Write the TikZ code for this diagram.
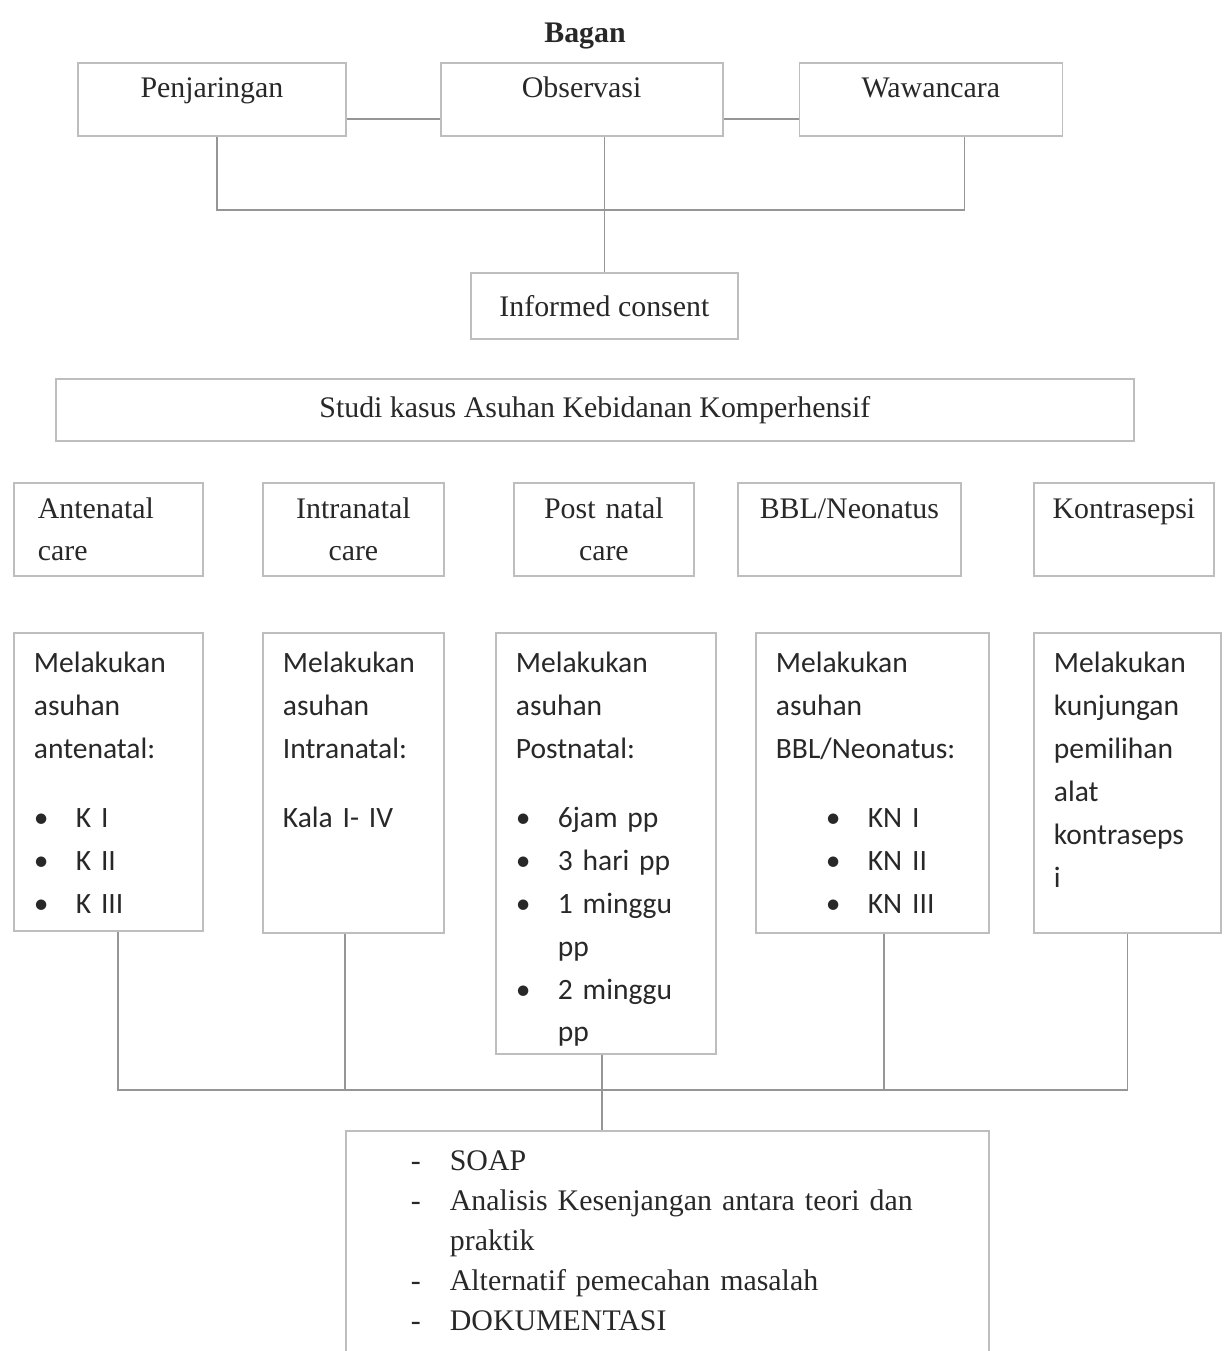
\documentclass[tikz,border=0pt]{standalone}
\usepackage{fontspec}
\setmainfont{Liberation Serif}
\newfontfamily\bodyfont{Carlito}
\usepackage{xcolor}
\usetikzlibrary{positioning}
\definecolor{boxgray}{RGB}{190, 190, 190}
\definecolor{linegray}{RGB}{150, 150, 150}
\definecolor{inkgray}{RGB}{40, 40, 40}
\newcommand{\bul}[1]{\makebox[0.84cm][l]{\textbullet}#1}
\newcommand{\dsh}[1]{\makebox[0.78cm][l]{-}#1}

\begin{document}
\begin{tikzpicture}[
    box/.style={draw=boxgray, line width=1pt, anchor=north west, text=inkgray,
                font=\fontsize{17}{23.8}\selectfont},
    head/.style={box, inner sep=0pt, text height=0.7cm, text depth=0.76cm},
    care/.style={box, inner ysep=0pt, inner xsep=0.3cm, align=center,
                 text height=0.72cm, text depth=1.14cm},
    detail/.style={box, inner ysep=0pt, inner xsep=0.4cm, align=left, text height=0.8cm,
                   font=\bodyfont\fontsize{16.8}{24.4}\selectfont},
    link/.style={draw=linegray, line width=1pt}
]
    \useasboundingbox (0,0) rectangle (24.52,-27.02);

    \node[text=inkgray, font=\bfseries\fontsize{17}{20}\selectfont] (title) at (11.7,-0.72) {Bagan};
    \node[head, minimum width=5.36cm] (pen) at (1.54,-1.24) {Penjaringan};
    \node[head, minimum width=5.64cm, right=1.86cm of pen] (obs) {Observasi};
    \node[head, minimum width=5.26cm, right=1.5cm of obs] (waw) {Wawancara};

    \node[box, inner sep=0pt, minimum width=5.34cm, minimum height=1.32cm] (ic) at (9.4,-5.44) {Informed consent};
    \node[box, inner sep=0pt, minimum width=21.56cm, minimum height=1.24cm] (studi) at (1.1,-7.56)
        {Studi kasus Asuhan Kebidanan Komperhensif};

    \node[care, inner xsep=0.48cm, align=left, text width=2.82cm] (ante) at (0.26,-9.64) {Antenatal\\care};
    \node[care, text width=3.02cm] (intra) at (5.24,-9.64) {Intranatal\\care};
    \node[care, text width=3.0cm] (post) at (10.26,-9.64) {Post natal\\care};
    \node[care, text width=3.86cm] (bbl) at (14.74,-9.64) {BBL/Neonatus};
    \node[care, text width=3.0cm] (kb) at (20.66,-9.64) {Kontrasepsi};

    \node[detail, text width=2.98cm, text depth=5.16cm] (d1) at (0.26,-12.64)
        {Melakukan\\asuhan\\antenatal:\\[0.52cm]\bul{K I}\\\bul{K II}\\\bul{K III}};
    \node[detail, text width=2.82cm, text depth=5.2cm] (d2) at (5.24,-12.64)
        {Melakukan\\asuhan\\Intranatal:\\[0.52cm]Kala I- IV};
    \node[detail, text width=3.6cm, text depth=7.62cm] (d3) at (9.9,-12.64)
        {Melakukan\\asuhan\\Postnatal:\\[0.52cm]\bul{6jam pp}\\\bul{3 hari pp}\\\bul{1 minggu}\\
         \hspace*{0.84cm}pp\\\bul{2 minggu}\\\hspace*{0.84cm}pp};
    \node[detail, text width=3.86cm, text depth=5.2cm] (d4) at (15.1,-12.64)
        {Melakukan\\asuhan\\BBL/Neonatus:\\[0.52cm]\hspace*{1.0cm}\bul{KN I}\\
         \hspace*{1.0cm}\bul{KN II}\\\hspace*{1.0cm}\bul{KN III}};
    \node[detail, text width=2.94cm, text depth=5.2cm] (d5) at (20.66,-12.64)
        {Melakukan\\kunjungan\\pemilihan\\alat\\kontraseps\\i};

    \node[box, inner ysep=0pt, inner xsep=1.3cm, align=left, text width=10.26cm,
          text height=0.8cm, text depth=4.0cm, font=\fontsize{17}{22.7}\selectfont] (doc) at (6.9,-22.6)
        {\dsh{SOAP}\\\dsh{Analisis Kesenjangan antara teori dan}\\\hspace*{0.78cm}praktik\\
         \dsh{Alternatif pemecahan masalah}\\\dsh{DOKUMENTASI}};

    \draw[link] ([yshift=-0.39cm]pen.east) -- ([yshift=-0.39cm]obs.west);
    \draw[link] ([yshift=-0.39cm]obs.east) -- ([yshift=-0.39cm]waw.west);
    \coordinate (topbus) at (12.07,-4.2);
    \draw[link] ([xshift=0.1cm]pen.south) |- (topbus) -| ([xshift=0.67cm]waw.south);
    \draw[link] (obs.south -| ic.north) -- (ic.north);

    \coordinate (lowbus) at (12.02,-21.8);
    \coordinate (f2) at ([xshift=-0.17cm]d2.south);
    \coordinate (f3) at ([xshift=-0.08cm]d3.south);
    \coordinate (f4) at ([xshift=0.23cm]d4.south);
    \draw[link] ([xshift=0.19cm]d1.south) |- (lowbus) -| (d5.south);
    \draw[link] (f2) -- (f2 |- lowbus);
    \draw[link] (f4) -- (f4 |- lowbus);
    \draw[link] (f3) -- (f3 |- doc.north);
\end{tikzpicture}
\end{document}
